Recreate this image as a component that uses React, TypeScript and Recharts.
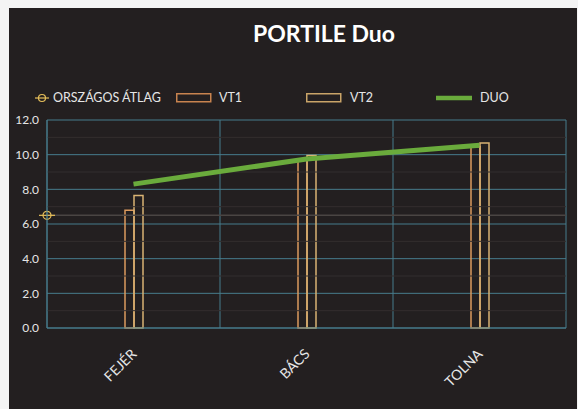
import React from 'react';
import {
  ComposedChart, Bar, Line, XAxis, YAxis, CartesianGrid, ReferenceLine,
} from 'recharts';

const categories = ['FEJÉR', 'BÁCS', 'TOLNA'];
const vt1 = [6.8, 9.7, 10.45];
const vt2 = [7.65, 9.95, 10.67];
const duo = [8.3, 9.75, 10.55];
const orszagosAtlag = 6.5;
const yTicks = [0, 2, 4, 6, 8, 10, 12];
const minorTicks = [1, 3, 5, 7, 9, 11];

const data = categories.map((c, i) => ({ name: c, vt1: vt1[i], vt2: vt2[i], duo: duo[i] }));

const BG = '#231f20';
const GRID = '#467c8c';
const VT1C = '#dc9a5e';
const VT2C = '#d9b373';
const GREEN = '#6aab3c';
const MARK = '#e6bf5a';
const TXT = '#e6e6e6';
const FONT = 'Lato, "Noto Sans", sans-serif';

const W = 568;
const H = 401;

const XTick = (props: any) => {
  const { x, y, payload } = props;
  const ax = x + 4;
  const ay = y + 19;
  return (
    <text x={ax} y={ay} textAnchor="end" fill={TXT} fontSize={14} fontFamily={FONT}
      transform={`rotate(-45, ${ax}, ${ay})`}>
      {payload.value}
    </text>
  );
};

const AvgMarker = (props: any) => {
  const vb = props.viewBox || {};
  const cx = vb.x;
  const cy = vb.y;
  if (cx == null || cy == null) return null;
  return (
    <g>
      <line x1={cx - 8} x2={cx + 8} y1={cy} y2={cy} stroke={MARK} strokeWidth={1.2} />
      <circle cx={cx} cy={cy} r={4} fill="none" stroke={MARK} strokeWidth={1.2} />
    </g>
  );
};

const LegendRow = () => (
  <div style={{ position: 'absolute', left: 0, top: 82, width: W, height: 16, fontFamily: FONT, fontSize: 12.5, color: TXT }}>
    <svg style={{ position: 'absolute', left: 26, top: 2 }} width={14} height={12}>
      <line x1={0} x2={14} y1={6} y2={6} stroke={MARK} strokeWidth={1.2} />
      <circle cx={7} cy={6} r={3.5} fill="none" stroke={MARK} strokeWidth={1.2} />
    </svg>
    <span style={{ position: 'absolute', left: 44, top: 0, lineHeight: '16px' }}>ORSZÁGOS ÁTLAG</span>
    <svg style={{ position: 'absolute', left: 167, top: 3 }} width={36} height={10}>
      <rect x={0.75} y={0.75} width={34} height={8} fill="none" stroke="#c8834f" strokeWidth={1.5} />
    </svg>
    <span style={{ position: 'absolute', left: 210, top: 0, lineHeight: '16px' }}>VT1</span>
    <svg style={{ position: 'absolute', left: 297, top: 3 }} width={36} height={10}>
      <rect x={0.75} y={0.75} width={34} height={8} fill="none" stroke="#c9a468" strokeWidth={1.5} />
    </svg>
    <span style={{ position: 'absolute', left: 341, top: 0, lineHeight: '16px' }}>VT2</span>
    <svg style={{ position: 'absolute', left: 427, top: 3 }} width={36} height={10}>
      <line x1={0} x2={36} y1={5} y2={5} stroke={GREEN} strokeWidth={4.5} />
    </svg>
    <span style={{ position: 'absolute', left: 471, top: 0, lineHeight: '16px' }}>DUO</span>
  </div>
);

export default function App() {
  return (
    <div style={{ position: 'fixed', left: 0, top: 0, width: 578, height: 409, background: '#f4f4f4', overflow: 'hidden' }}>
      <div style={{ position: 'absolute', left: 9, top: 8, width: W, height: H, background: BG }}>
        <div style={{
          position: 'absolute', left: 0, top: 11, width: 630, textAlign: 'center',
          color: '#ffffff', fontFamily: FONT, fontWeight: 700, fontSize: 23,
        }}>PORTILE Duo</div>
        <LegendRow />
        <ComposedChart width={W} height={H} data={data}
          margin={{ top: 112, right: 11, left: 0, bottom: 0 }}
          barGap={0} barCategoryGap="45%">
          <CartesianGrid stroke={GRID} strokeWidth={1}
            verticalCoordinatesGenerator={(p: any) => {
              const off = p && p.offset ? p.offset : { left: 38, width: 519 };
              return [0, 1, 2, 3].map((i) => off.left + (i * off.width) / 3);
            }} />
          {minorTicks.map((v) => (
            <ReferenceLine key={v} y={v} stroke="#332e2e" strokeWidth={1} />
          ))}
          <ReferenceLine y={orszagosAtlag} stroke="#4a4543" strokeWidth={1.5} label={<AvgMarker />} />
          <XAxis dataKey="name" height={81} axisLine={{ stroke: GRID }} tickLine={false}
            tick={<XTick />} interval={0} />
          <YAxis width={38} domain={[0, 12]} ticks={yTicks} axisLine={{ stroke: GRID }} tickLine={false}
            tick={{ fill: TXT, fontSize: 12, fontFamily: FONT }} tickMargin={2}
            tickFormatter={(v: number) => v.toFixed(1)} />
          <Bar dataKey="vt1" name="VT1" barSize={9} fill="none" stroke={VT1C} strokeWidth={1.5} isAnimationActive={false} />
          <Bar dataKey="vt2" name="VT2" barSize={9} fill="none" stroke={VT2C} strokeWidth={1.5} isAnimationActive={false} />
          <Line dataKey="duo" name="DUO" stroke={GREEN} strokeWidth={5} dot={false} strokeLinecap="butt" isAnimationActive={false} />
        </ComposedChart>
      </div>
    </div>
  );
}
